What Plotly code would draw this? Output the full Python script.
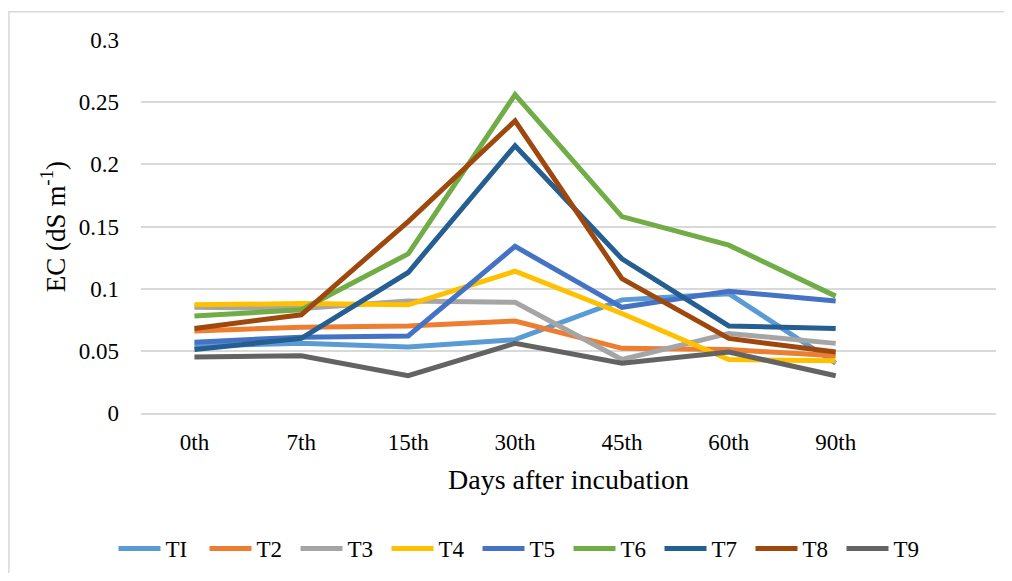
import plotly.graph_objects as go

days = ["0th", "7th", "15th", "30th", "45th", "60th", "90th"]
series_names = ["TI", "T2", "T3", "T4", "T5", "T6", "T7", "T8", "T9"]

T1 = [0.054, 0.056, 0.053, 0.059, 0.091, 0.096, 0.040]
T2 = [0.066, 0.069, 0.070, 0.074, 0.052, 0.051, 0.046]
T3 = [0.085, 0.084, 0.090, 0.089, 0.043, 0.064, 0.056]
T4 = [0.087, 0.088, 0.087, 0.114, 0.080, 0.043, 0.042]
T5 = [0.057, 0.061, 0.062, 0.134, 0.085, 0.098, 0.090]
T6 = [0.078, 0.083, 0.128, 0.256, 0.158, 0.135, 0.094]
T7 = [0.051, 0.060, 0.113, 0.215, 0.124, 0.070, 0.068]
T8 = [0.068, 0.079, 0.154, 0.235, 0.108, 0.060, 0.049]
T9 = [0.045, 0.046, 0.030, 0.056, 0.040, 0.049, 0.030]

values = [T1, T2, T3, T4, T5, T6, T7, T8, T9]
colors = ["#5B9BD5", "#ED7D31", "#A5A5A5", "#FFC000", "#4472C4",
          "#70AD47", "#255E91", "#9E480E", "#636363"]

FF = "Liberation Serif"

fig = go.Figure()
for name, vals, col in zip(series_names, values, colors):
    fig.add_trace(go.Scatter(x=days, y=vals, mode="lines", name=name,
                             line=dict(color=col, width=5)))

# page body has an 8px margin, so the figure is laid out 8px up/left
fig.update_layout(
    width=996, height=565,
    margin=dict(l=133, r=8, t=32, b=160, autoexpand=False),
    paper_bgcolor="white", plot_bgcolor="white",
    font=dict(family=FF, size=23, color="black"),
    showlegend=True,
    legend=dict(orientation="h", xref="paper", yref="paper",
                x=0.4468, xanchor="center", y=-0.3633, yanchor="middle",
                font=dict(family=FF, size=23, color="black"),
                itemwidth=42, entrywidth=34, entrywidthmode="pixels",
                tracegroupgap=0),
    shapes=[dict(type="rect", xref="paper", yref="paper",
                 x0=-0.1545, x1=1.2, y0=-1, y1=1.076,
                 line=dict(color="#d9d9d9", width=1.5), layer="below")],
)
fig.update_xaxes(
    type="category", range=[-0.5, 7.5], automargin=False,
    showgrid=False, zeroline=False,
    showline=True, linecolor="#d9d9d9", linewidth=1.5,
    ticks="", ticklabelstandoff=8,
    tickfont=dict(family=FF, size=23, color="black"),
    title=dict(text="Days after incubation", font=dict(family=FF, size=28, color="black"), standoff=15),
)
fig.update_yaxes(
    range=[0, 0.3], dtick=0.05, tick0=0, automargin=False,
    showgrid=True, gridcolor="#d9d9d9", gridwidth=1.5,
    zeroline=False, showline=False,
    ticks="", ticklabelstandoff=21,
    tickfont=dict(family=FF, size=23, color="black"),
    title=dict(text="EC (dS m<sup>-1</sup>)", font=dict(family=FF, size=27, color="black"), standoff=5),
)

fig.write_html("out.html")
